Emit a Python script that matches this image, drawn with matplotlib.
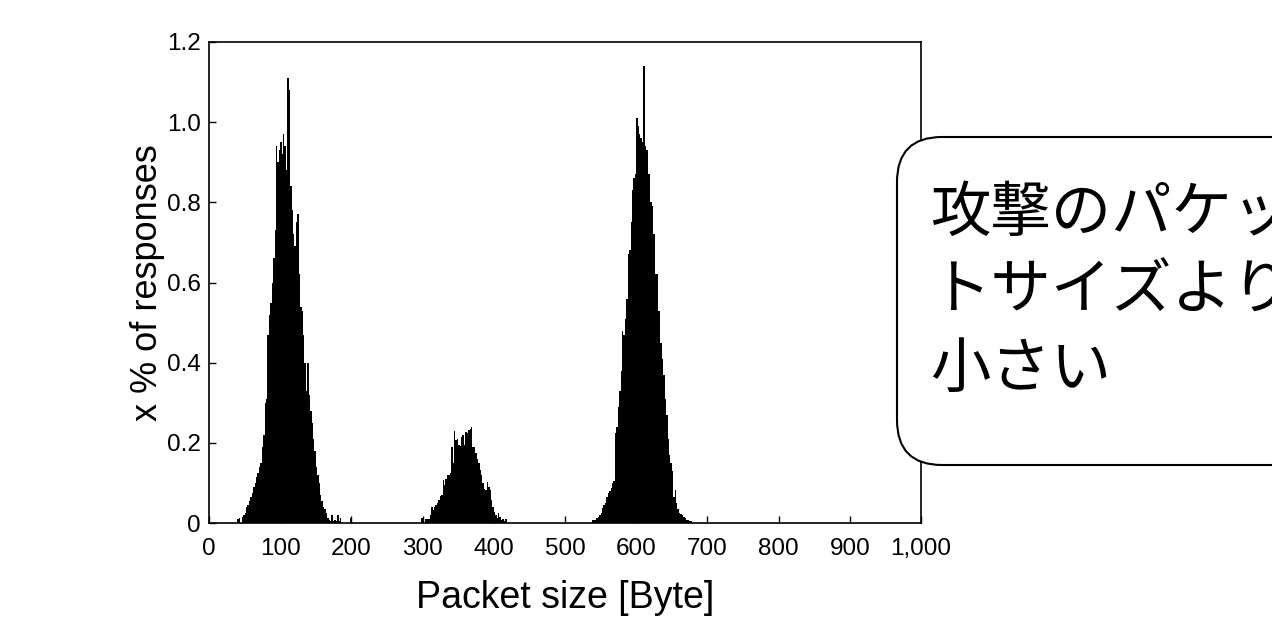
import matplotlib
matplotlib.use("Agg")
import matplotlib.pyplot as plt
from matplotlib.patches import FancyBboxPatch
from matplotlib.transforms import IdentityTransform
import numpy as np

# histogram, 2-byte bins: start byte of first bin + heights (% of responses)
start_1 = 40
peak_1 = [0.01, 0.012, 0.0, 0.015, 0.02, 0.025, 0.04, 0.045, 0.055, 0.065,
          0.075, 0.09, 0.10, 0.115, 0.125, 0.14, 0.15, 0.19, 0.22, 0.30,
          0.31, 0.47, 0.52, 0.55, 0.60, 0.66, 0.73, 0.94, 0.90, 0.93,
          0.95, 0.92, 0.97, 0.94, 0.88, 1.11, 1.08, 0.84, 0.78, 0.72,
          0.69, 0.75, 0.77, 0.62, 0.54, 0.53, 0.47, 0.40, 0.33, 0.40,
          0.32, 0.28, 0.25, 0.21, 0.18, 0.14, 0.12, 0.10, 0.07, 0.055,
          0.04, 0.035, 0.025, 0.012, 0.008, 0.005, 0.02, 0.005, 0.008, 0.004,
          0.02, 0.005, 0.012, 0.0, 0.0, 0.0, 0.0, 0.0, 0.0, 0.012]

start_2 = 298
peak_2 = [0.012, 0.0, 0.0, 0.01, 0.01, 0.01, 0.02, 0.039, 0.032, 0.039,
          0.045, 0.05, 0.057, 0.067, 0.07, 0.107, 0.095, 0.11, 0.12, 0.12,
          0.125, 0.19, 0.15, 0.23, 0.207, 0.21, 0.195, 0.192, 0.215, 0.22,
          0.195, 0.228, 0.224, 0.232, 0.235, 0.24, 0.19, 0.19, 0.174, 0.16,
          0.149, 0.132, 0.12, 0.099, 0.086, 0.082, 0.103, 0.09, 0.082, 0.057,
          0.04, 0.028, 0.02, 0.012, 0.024, 0.016, 0.008, 0.01, 0.004, 0.01]

start_3 = 538
peak_3 = [0.007, 0.008, 0.007, 0.012, 0.016, 0.02, 0.025, 0.037, 0.045, 0.05,
          0.066, 0.074, 0.08, 0.088, 0.10, 0.105, 0.224, 0.24, 0.29, 0.33,
          0.38, 0.48, 0.47, 0.51, 0.56, 0.67, 0.68, 0.75, 0.83, 0.86,
          0.87, 1.01, 0.99, 0.97, 0.96, 0.95, 1.14, 0.94, 0.93, 0.87,
          0.87, 0.80, 0.79, 0.72, 0.62, 0.62, 0.53, 0.53, 0.45, 0.41,
          0.37, 0.31, 0.27, 0.21, 0.17, 0.15, 0.13, 0.066, 0.083, 0.049,
          0.035, 0.025, 0.022, 0.02, 0.015, 0.012, 0.008, 0.007, 0.006, 0.004]

bin_width = 2
x_ticks = [0, 100, 200, 300, 400, 500, 600, 700, 800, 900, 1000]
x_ticklabels = ["0", "100", "200", "300", "400", "500", "600", "700", "800", "900", "1,000"]
y_ticks = [0, 0.2, 0.4, 0.6, 0.8, 1.0, 1.2]
y_ticklabels = ["0", "0.2", "0.4", "0.6", "0.8", "1.0", "1.2"]
callout = "攻撃のパケッ\nトサイズより\n小さい"

plt.rcParams['font.family'] = ['Liberation Sans', 'DejaVu Sans']

fig = plt.figure(figsize=(12.72, 6.4), dpi=100)
W, H = 1272, 640
ax = fig.add_axes([209 / W, 1 - 523 / H, (921 - 209) / W, (523 - 42) / H])

for s, vals in [(start_1, peak_1), (start_2, peak_2), (start_3, peak_3)]:
    xs = s + bin_width * np.arange(len(vals))
    ax.bar(xs, vals, width=bin_width, align='edge', color='black', linewidth=0)

ax.set_xlim(0, 1000)
ax.set_ylim(0, 1.2)
ax.set_xticks(x_ticks)
ax.set_xticklabels(x_ticklabels)
ax.set_yticks(y_ticks)
ax.set_yticklabels(y_ticklabels)
ax.tick_params(direction='in', length=5, width=1, labelsize=17.5)
ax.tick_params(axis='x', pad=11)
ax.tick_params(axis='y', pad=6)
for sp in ax.spines.values():
    sp.set_linewidth(1.2)

ax.set_xlabel("Packet size [Byte]", fontsize=27, labelpad=14)
ax.set_ylabel("x % of responses", fontsize=26, labelpad=1)

# callout box (pixel coords), runs off the right edge of the figure
box = FancyBboxPatch((897, H - 465), 450, 465 - 137,
                     boxstyle="round,pad=0,rounding_size=45",
                     transform=IdentityTransform(), facecolor='white',
                     edgecolor='black', linewidth=1.5)
fig.patches.append(box)
fig.text(930 / W, 1 - 182 / H, callout, fontsize=43.5, va='top', ha='left',
         family=['Noto Sans CJK JP', 'DejaVu Sans'], linespacing=1.32)

fig.savefig("out.png", dpi=100)
